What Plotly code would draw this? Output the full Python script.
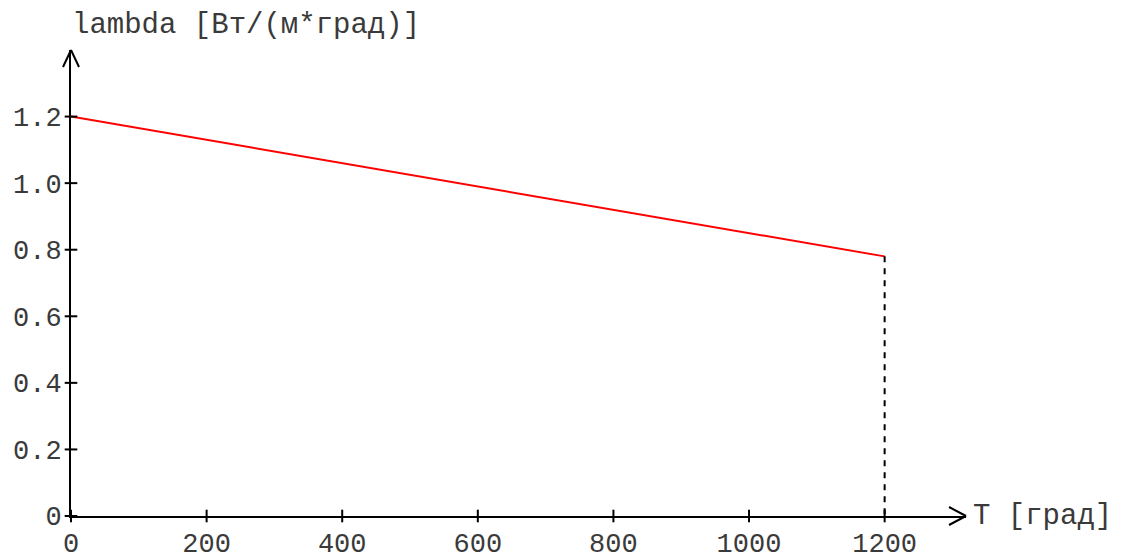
import plotly.graph_objects as go

T = [0, 1200]
lam = [1.2, 0.78]
x_ticks = [0, 200, 400, 600, 800, 1000, 1200]
y_ticks = [0, 0.2, 0.4, 0.6, 0.8, 1.0, 1.2]
y_tick_text = ["0", "0.2", "0.4", "0.6", "0.8", "1.0", "1.2"]
x_title = "T [град]"
y_title = "lambda [Вт/(м*град)]"

FONT = "Liberation Mono, Courier New, monospace"
TXT = "#3a3a3a"
FS = 27
FS_T = 29
XMAX = 1320
YMAX = 1.4

# the page body adds an 8px offset, so the figure is 8px smaller on each side
W, H = 1113, 546
L, T_M, PW, PH = 63, 42, 895, 466

fig = go.Figure()
fig.add_trace(go.Scatter(x=T, y=lam, mode="lines",
                         line=dict(color="#ff0000", width=2), showlegend=False, hoverinfo="skip"))
fig.add_trace(go.Scatter(x=[T[-1], T[-1]], y=[lam[-1], 0], mode="lines",
                         line=dict(color="black", width=2, dash="6px,6px"), showlegend=False, hoverinfo="skip"))
# tick marks crossing the axes
fig.add_trace(go.Scatter(x=x_ticks, y=[0] * len(x_ticks), mode="markers", cliponaxis=False,
                         marker=dict(symbol="line-ns", size=9, line=dict(color="black", width=2)),
                         showlegend=False, hoverinfo="skip"))
fig.add_trace(go.Scatter(x=[0] * len(y_ticks), y=y_ticks, mode="markers", cliponaxis=False,
                         marker=dict(symbol="line-ew", size=9, line=dict(color="black", width=2)),
                         showlegend=False, hoverinfo="skip"))

shapes = []
for dy in (-9, 9):
    shapes.append(dict(type="line", xref="paper", yref="paper", xsizemode="pixel", ysizemode="pixel",
                       xanchor=1, yanchor=0, x0=-17, x1=0, y0=dy, y1=0,
                       line=dict(color="black", width=2)))
for dx in (-8, 8):
    shapes.append(dict(type="line", xref="paper", yref="paper", xsizemode="pixel", ysizemode="pixel",
                       xanchor=0, yanchor=1, x0=dx, x1=0, y0=-17, y1=0,
                       line=dict(color="black", width=2)))

axis_common = dict(showgrid=False, zeroline=False, showline=True, linecolor="black", linewidth=2,
                   ticks="outside", tickcolor="rgba(0,0,0,0)", tickwidth=1, automargin=False,
                   tickfont=dict(family=FONT, size=FS, color=TXT))

fig.update_layout(
    width=W, height=H,
    margin=dict(l=L, r=W - L - PW, t=T_M, b=H - T_M - PH, pad=0, autoexpand=False),
    plot_bgcolor="white", paper_bgcolor="white",
    font=dict(family=FONT, color=TXT, size=FS),
    shapes=shapes,
    xaxis=dict(range=[0, XMAX], tickvals=x_ticks, ticklen=2, **axis_common),
    yaxis=dict(range=[0, YMAX], tickvals=y_ticks, ticktext=y_tick_text, ticklen=2, **axis_common),
    annotations=[
        dict(text=x_title, xref="paper", yref="y", x=1, y=0, xshift=5, xanchor="left", yanchor="middle",
             showarrow=False, font=dict(family=FONT, size=FS_T, color=TXT)),
        dict(text=y_title, xref="x", yref="paper", x=0, y=1, xshift=-1, yshift=6, xanchor="left", yanchor="bottom",
             showarrow=False, font=dict(family=FONT, size=FS_T, color=TXT)),
    ],
)
fig.write_html("out.html")
